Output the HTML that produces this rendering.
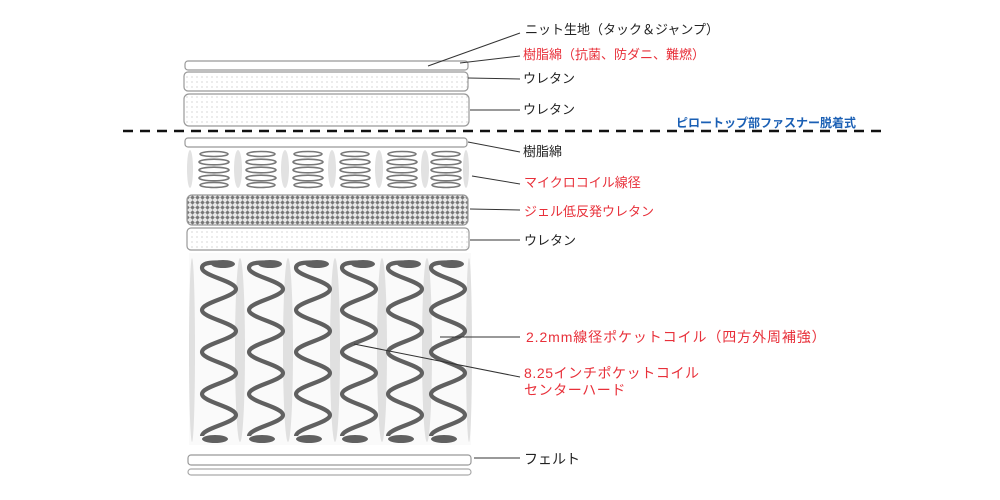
<!DOCTYPE html>
<html><head><meta charset="utf-8"><style>
html,body{margin:0;padding:0;background:#fff;}
svg{display:block}
text{font-family:"Liberation Sans","Noto Sans CJK JP",sans-serif;font-size:13px;}
.b{font-size:14px;}
</style></head><body>
<svg width="1000" height="500" viewBox="0 0 1000 500" xmlns="http://www.w3.org/2000/svg">
<defs>
<pattern id="dots" width="5" height="5" patternUnits="userSpaceOnUse"><circle cx="2" cy="2" r="0.6" fill="#bbb"/></pattern>
<pattern id="gel" width="5" height="5" patternUnits="userSpaceOnUse"><rect width="5" height="5" fill="#e8e8e8"/><path d="M2.5 0.3 L4.7 2.5 L2.5 4.7 L0.3 2.5Z" fill="#777"/></pattern>
<g id="pc">
<path d="M-17,268 C-17,276 17,281 17,289 C17,297 -17,302 -17,310 C-17,318 17,323 17,331 C17,339 -17,344 -17,352 C-17,360 17,365 17,373 C17,381 -17,386 -17,394 C-17,402 17,407 17,415 C17,423 -17,428 -17,436" fill="none" stroke="#606060" stroke-width="4.2"/>
<path d="M-17,268 C-17,262 -5,262 8,263" fill="none" stroke="#606060" stroke-width="4.2"/>
<ellipse cx="4" cy="264" rx="12" ry="4" fill="#606060"/>
<ellipse cx="-4" cy="439" rx="13" ry="4" fill="#606060"/>
</g>
<g id="mc" fill="none" stroke="#777" stroke-width="1.6">
<ellipse cx="0" cy="154" rx="14" ry="2.5"/>
<ellipse cx="0" cy="162" rx="15" ry="2.8"/>
<ellipse cx="0" cy="170" rx="15" ry="2.8"/>
<ellipse cx="0" cy="178" rx="15" ry="2.8"/>
<ellipse cx="0" cy="185" rx="14" ry="2.5"/>
</g>
</defs>

<rect x="185" y="61" width="283" height="9" rx="3" fill="#fff" stroke="#999" stroke-width="1.2"/>
<rect x="184" y="72" width="284" height="19" rx="4" fill="url(#dots)" stroke="#999" stroke-width="1.2"/>
<rect x="184" y="94" width="285" height="32" rx="5" fill="url(#dots)" stroke="#999" stroke-width="1.2"/>

<line x1="123" y1="131" x2="885" y2="131" stroke="#111" stroke-width="2.5" stroke-dasharray="10,7"/>

<rect x="185" y="138" width="282" height="9" rx="3" fill="#fff" stroke="#999" stroke-width="1.2"/>

<g fill="#e2e2e2">
<ellipse cx="190" cy="169" rx="3" ry="19"/>
<ellipse cx="238" cy="169" rx="4" ry="19"/>
<ellipse cx="285" cy="169" rx="4" ry="19"/>
<ellipse cx="332" cy="169" rx="4" ry="19"/>
<ellipse cx="379" cy="169" rx="4" ry="19"/>
<ellipse cx="425" cy="169" rx="4" ry="19"/>
<ellipse cx="466" cy="169" rx="3" ry="19"/>
</g>
<use href="#mc" x="214"/><use href="#mc" x="261"/><use href="#mc" x="308"/>
<use href="#mc" x="355"/><use href="#mc" x="402"/><use href="#mc" x="446"/>

<rect x="187" y="195" width="281" height="30" rx="5" fill="url(#gel)" stroke="#999" stroke-width="1.2"/>
<rect x="187" y="228" width="282" height="22" rx="4" fill="url(#dots)" stroke="#999" stroke-width="1.2"/>

<rect x="189" y="253" width="282" height="192" fill="#fafafa"/>
<g fill="#e0e0e0">
<ellipse cx="192" cy="350" rx="3" ry="92"/>
<ellipse cx="240" cy="350" rx="5" ry="92"/>
<ellipse cx="288" cy="350" rx="5" ry="92"/>
<ellipse cx="335" cy="350" rx="5" ry="92"/>
<ellipse cx="382" cy="350" rx="5" ry="92"/>
<ellipse cx="427" cy="350" rx="5" ry="92"/>
<ellipse cx="469" cy="350" rx="3" ry="92"/>
</g>
<use href="#pc" x="219"/><use href="#pc" x="266"/><use href="#pc" x="313"/>
<use href="#pc" x="359"/><use href="#pc" x="405"/><use href="#pc" x="448"/>

<rect x="188" y="455" width="283" height="10" rx="3" fill="#fff" stroke="#999" stroke-width="1.2"/>
<rect x="188" y="469" width="283" height="6" rx="3" fill="#fff" stroke="#aaa" stroke-width="1.2"/>

<g stroke="#333" stroke-width="1" fill="none">
<line x1="428" y1="66" x2="520" y2="33"/>
<line x1="460" y1="63" x2="520" y2="56"/>
<line x1="468" y1="78" x2="520" y2="79"/>
<line x1="470" y1="110" x2="520" y2="110"/>
<line x1="468" y1="142" x2="520" y2="152"/>
<line x1="472" y1="176" x2="520" y2="184"/>
<line x1="470" y1="209" x2="520" y2="210"/>
<line x1="470" y1="240" x2="520" y2="240"/>
<line x1="440" y1="337" x2="520" y2="337"/>
<line x1="354" y1="344" x2="520" y2="377"/>
<line x1="474" y1="458" x2="520" y2="458"/>
</g>

<text x="525" y="34" fill="#222">ニット生地（タック＆ジャンプ）</text>
<text x="523" y="59" fill="#e8303a">樹脂綿（抗菌、防ダニ、難燃）</text>
<text x="523" y="83" fill="#222">ウレタン</text>
<text x="523" y="114" fill="#222">ウレタン</text>
<text x="676" y="127" fill="#1a5fb4" style="font-size:12px;font-weight:bold">ピロートップ部ファスナー脱着式</text>
<text x="523" y="156" fill="#222">樹脂綿</text>
<text x="524" y="187" fill="#e8303a">マイクロコイル線径</text>
<text x="524" y="216" fill="#e8303a">ジェル低反発ウレタン</text>
<text x="524" y="245" fill="#222">ウレタン</text>
<text x="526" y="342" fill="#e8303a" class="b" style="letter-spacing:0.9px">2.2mm線径ポケットコイル（四方外周補強）</text>
<text x="524" y="378" fill="#e8303a" class="b" style="letter-spacing:0.6px">8.25インチポケットコイル</text>
<text x="524" y="395" fill="#e8303a" class="b" style="letter-spacing:0.6px">センターハード</text>
<text x="524" y="464" fill="#222" class="b">フェルト</text>
</svg>
</body></html>
